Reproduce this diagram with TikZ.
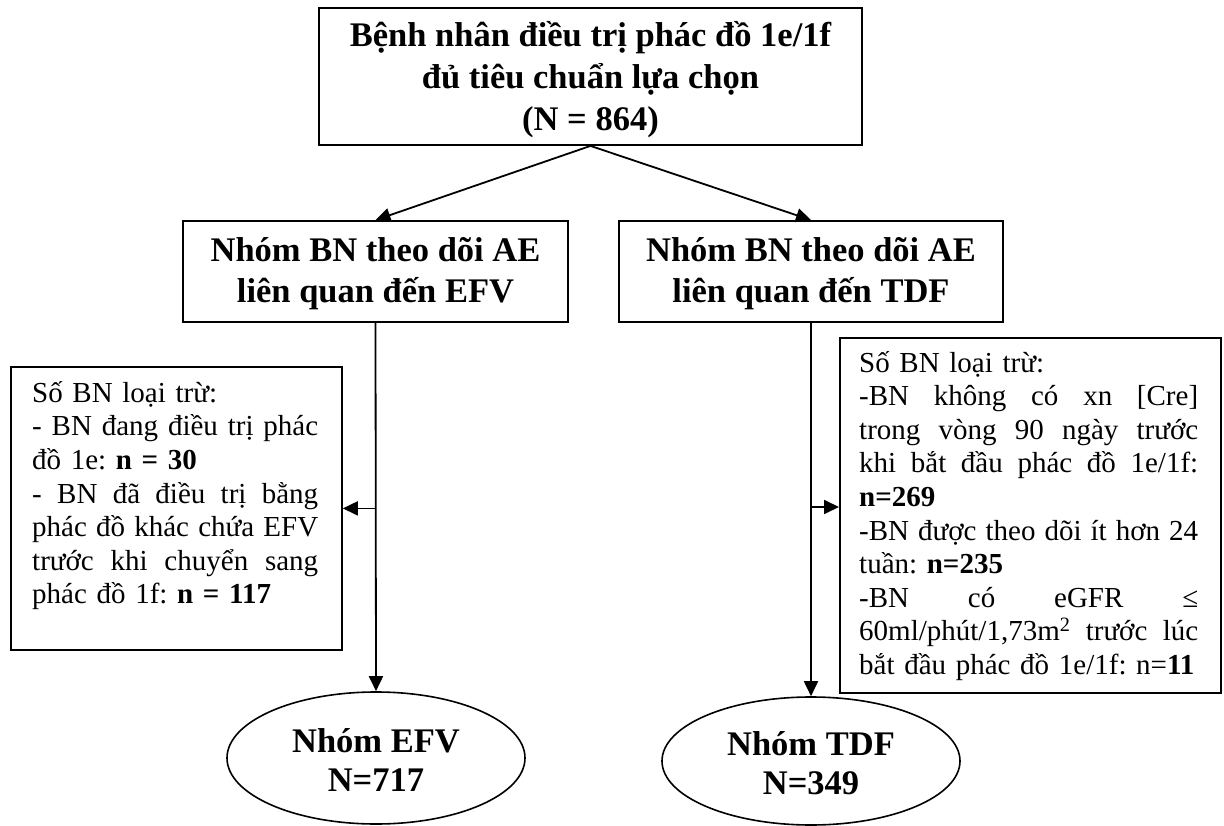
\documentclass[tikz,border=0pt]{standalone}
\usepackage{fontspec}
\setmainfont{Liberation Serif}
\usetikzlibrary{arrows.meta,shapes.geometric,calc}
\newcommand{\stretchline}[2]{\makebox[#1][s]{\spaceskip=0pt\xspaceskip=0pt #2}}
\newcommand{\topstrut}[1]{\rule{0pt}{#1}}
\newcommand{\botstrut}[1]{\rule[-#1]{0pt}{#1}}
\begin{document}
\begin{tikzpicture}[x=1pt,y=-1pt,
  box/.style={draw, line width=1.8pt, inner sep=0pt, align=center,
    font=\bfseries\fontsize{34.5pt}{42pt}\selectfont},
  ell/.style={draw, ellipse, line width=1.6pt, inner sep=0pt, minimum width=298pt,
    align=center, font=\bfseries\fontsize{34.5pt}{39pt}\selectfont},
  exbox/.style={draw, line width=1.8pt, inner sep=0pt, anchor=north west},
  extext/.style={anchor=north west, inner sep=0pt,
    font=\fontsize{29pt}{33.6pt}\selectfont\frenchspacing},
  arr/.style={line width=1.8pt, -{Triangle[length=15pt,width=14pt]}}]
\fill[white] (0,0) rectangle (1224,826);
\useasboundingbox (0,0) rectangle (1224,826);

\node[box, minimum width=543pt, minimum height=137pt] (top) at (590.5,76.5)
  {\topstrut{36pt}Bệnh nhân điều trị phác đồ 1e/1f\\đủ tiêu chuẩn lựa chọn\\(N = 864)\botstrut{11pt}};

\node[box, minimum width=385pt, minimum height=101pt,
  font=\bfseries\fontsize{34.5pt}{41pt}\selectfont] (efv) at (375.5,271.5)
  {\topstrut{32pt}Nhóm BN theo dõi AE\\liên quan đến EFV\botstrut{10pt}};
\node[box, minimum width=384pt, minimum height=101pt,
  font=\bfseries\fontsize{34.5pt}{41pt}\selectfont] (tdf) at (811,271.5)
  {\topstrut{32pt}Nhóm BN theo dõi AE\\liên quan đến TDF\botstrut{10pt}};

\node[exbox, minimum width=331pt, minimum height=283pt] (ex1) at (10,366) {};
\node[extext, text width=286pt] (ex1t) at (32,372)
  {\topstrut{30pt}Số BN loại trừ:\\
   \stretchline{286pt}{- BN đang điều trị phác}\\
   đồ 1e: \textbf{n = 30}\\
   \stretchline{286pt}{- BN đã điều trị bằng}\\
   \stretchline{286pt}{phác đồ khác chứa EFV}\\
   \stretchline{286pt}{trước khi chuyển sang}\\
   phác đồ 1f: \textbf{n = 117}};

\node[exbox, minimum width=381pt, minimum height=355pt] (ex2) at (839,337) {};
\node[extext, text width=339pt] (ex2t) at (859,342)
  {\topstrut{30pt}Số BN loại trừ:\\
   \stretchline{339pt}{-BN không có xn [Cre]}\\
   \stretchline{339pt}{trong vòng 90 ngày trước}\\
   \stretchline{339pt}{khi bắt đầu phác đồ 1e/1f:}\\
   \textbf{n=269}\\
   \stretchline{339pt}{-BN được theo dõi ít hơn 24}\\
   tuần: \textbf{n=235}\\
   \stretchline{339pt}{-BN có eGFR ≤}\\
   \stretchline{339pt}{60ml/phút/1,73m\textsuperscript{2} trước lúc}\\
   \mbox{bắt đầu phác đồ 1e/1f: n=\textbf{11}}};

\node[ell, minimum height=132pt] (ell1) at (376,758)
  {\topstrut{30pt}Nhóm EFV\\N=717\botstrut{3pt}};
\node[ell, minimum height=128pt] (ell2) at (811,761)
  {\topstrut{30pt}Nhóm TDF\\N=349\botstrut{3pt}};

\draw[arr] (top.south) -- (efv.north);
\draw[arr] (top.south) -- (tdf.north);
\draw[arr] (efv.south) -- (ell1.north);
\draw[arr] (tdf.south) -- (ell2.north);
\draw[arr] (ex1.east -| efv.south) -- (ex1.east);
\coordinate (j2) at (811,507);
\draw[arr] (j2) -- (j2 -| ex2.west);
\end{tikzpicture}
\end{document}
